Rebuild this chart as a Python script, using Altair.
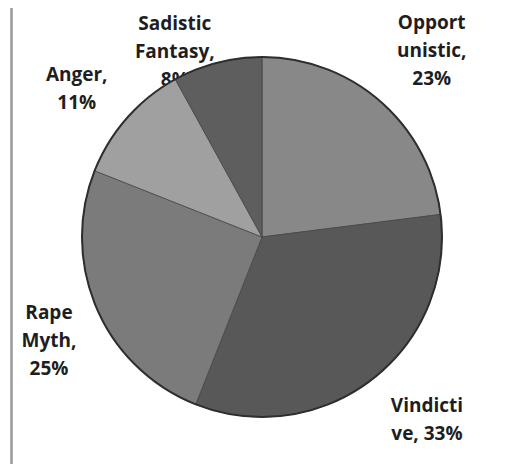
import altair as alt
import pandas as pd
import math

categories = ["Opportunistic", "Vindictive", "Rape Myth", "Anger", "Sadistic Fantasy"]
percents = [23, 33, 25, 11, 8]
label_lines = [
    ["Opport", "unistic,", "23%"],
    ["Vindicti", "ve, 33%"],
    ["Rape", "Myth,", "25%"],
    ["Anger,", "11%"],
    ["Sadistic", "Fantasy,", "8%"],
]
colors = ["#888888", "#585858", "#7b7b7b", "#a0a0a0", "#5e5e5e"]

df = pd.DataFrame({
    "category": categories,
    "percent": percents,
    "order": list(range(len(categories))),
    "label": ["\n".join(l) for l in label_lines],
})

CX, CY = 254, 229
R = 180
LH = 28

# label placement tweaks (radius, dx, dy) mimicking Excel's best-fit labels
label_place = {
    "Opportunistic": (243, 9, -4),
    "Vindictive": (243, 16, -9),
    "Rape Myth": (243, 10, 7),
    "Anger": (243, -3, 13),
    "Sadistic Fantasy": (206, -36, 15),
}

base = alt.Chart(df).encode(
    theta=alt.Theta("percent:Q", stack=True),
    order=alt.Order("order:Q"),
    x=alt.value(CX),
    y=alt.value(CY),
)

pie = base.mark_arc(radius=R, stroke="#454545", strokeWidth=0.8).encode(
    color=alt.Color("category:N", scale=alt.Scale(domain=categories, range=colors), legend=None),
)

outline = alt.Chart(df).transform_aggregate(total="sum(percent)").mark_arc(
    radius=R, filled=False, stroke="#2e2e2e", strokeWidth=2
).encode(theta=alt.Theta("total:Q"), x=alt.value(CX), y=alt.value(CY))

text_style = dict(font="Open Sans", fontSize=19, fontWeight="bold", color="#1e1e1e",
                  lineBreak="\n", lineHeight=LH, align="center", baseline="middle")

lab_base = alt.Chart(df).transform_window(
    cum="sum(percent)", sort=[alt.SortField("order")]
).transform_calculate(
    mid="datum.cum - datum.percent / 2",
).encode(
    theta=alt.Theta("mid:Q", stack=None, scale=alt.Scale(domain=[0, 100], range=[0, 2 * math.pi])),
    x=alt.value(CX),
    y=alt.value(CY),
    text="label:N",
)

under_layers = []
over_layers = []
for cat, lines in zip(categories, label_lines):
    rad, ddx, ddy = label_place[cat]
    n = len(lines)
    layer = lab_base.transform_filter(alt.datum.category == cat).mark_text(
        radius=rad, dx=ddx, dy=ddy - (n - 1) * LH / 2, **text_style
    )
    # the small slice's label sits partly behind the pie, as in the original
    (under_layers if cat == "Sadistic Fantasy" else over_layers).append(layer)

frame = alt.Chart(df).mark_rule(color="#9a9a9a", strokeWidth=1.5).encode(
    x=alt.value(3.5), y=alt.value(0), y2=alt.value(458)
)

chart = alt.layer(frame, *under_layers, pie, outline, *over_layers).properties(
    width=490, height=456,
    autosize=alt.AutoSizeParams(type="none"),
    padding=0,
).configure_view(stroke=None)

chart.save("out.html", embed_options={"renderer": "svg", "actions": False})
